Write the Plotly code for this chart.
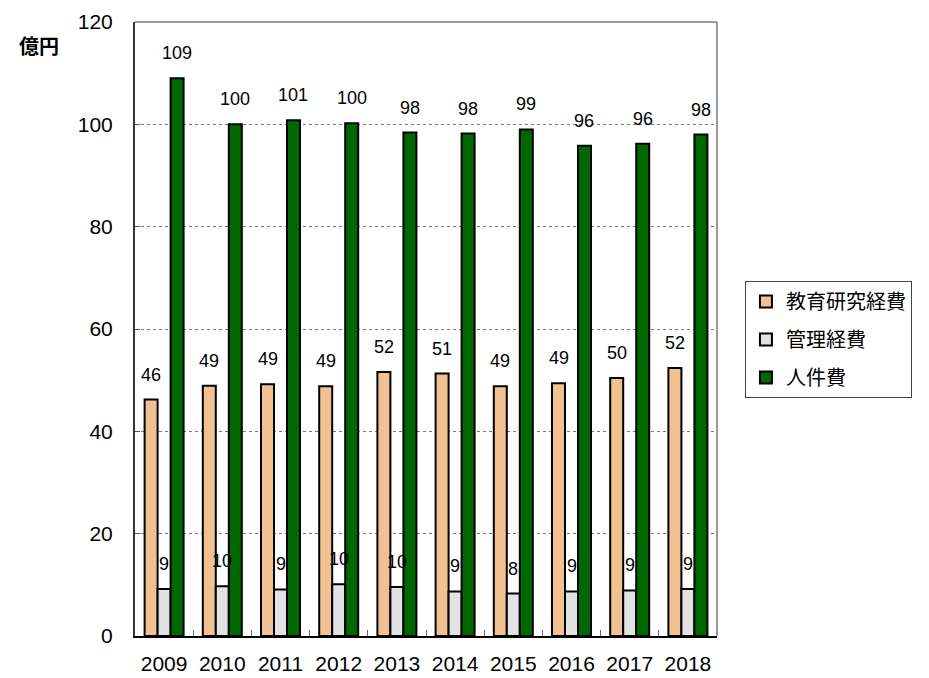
import plotly.graph_objects as go

years = ["2009", "2010", "2011", "2012", "2013", "2014", "2015", "2016", "2017", "2018"]
edu_research = [46.2, 48.9, 49.2, 48.8, 51.6, 51.3, 48.8, 49.4, 50.4, 52.4]
management = [9.2, 9.7, 9.1, 10.1, 9.6, 8.7, 8.3, 8.7, 8.9, 9.2]
personnel = [109.0, 100.0, 100.8, 100.2, 98.4, 98.2, 99.0, 95.8, 96.2, 98.0]
series_names = ["教育研究経費", "管理経費", "人件費"]
colors = ["#F2C192", "#E2E2E2", "#006800"]

CJK = "Noto Sans CJK JP"
LAT = "Liberation Sans"

W, H = 921, 670
ML, MR, MT, MB = 127, 212, 14, 42
plot_w = W - ML - MR
bargap = 0.33
bar_px = plot_w / len(years) * (1 - bargap) / 3

fig = go.Figure()
all_series = [edu_research, management, personnel]
annotations = []
for k, (name, vals, col) in enumerate(zip(series_names, all_series, colors)):
    fig.add_trace(go.Bar(
        x=years, y=vals, name=name, legendgroup=name,
        marker=dict(color=col, line=dict(color="black", width=2)),
    ))
    for i, v in enumerate(vals):
        # category index i on the category axis
        annotations.append(dict(
            x=i, y=v, xref="x", yref="y", text=f"{v:.0f}", showarrow=False,
            yanchor="bottom", xanchor="center", yshift=13, xshift=(k - 1) * bar_px,
            font=dict(family=LAT, size=18, color="black"),
        ))

annotations.append(dict(
    text="<b>億円</b>", xref="paper", yref="paper",
    x=(31 - ML) / plot_w, y=0.9625, xanchor="center", yanchor="middle",
    showarrow=False, font=dict(family=CJK, size=20, color="black"),
))

fig.update_layout(
    width=W, height=H,
    barmode="group", bargap=bargap, bargroupgap=0,
    paper_bgcolor="white", plot_bgcolor="white",
    margin=dict(l=ML, r=MR, t=MT, b=MB, autoexpand=False),
    font=dict(family=LAT, size=21, color="black"),
    legend=dict(
        x=1.048, y=0.578, xanchor="left", yanchor="top",
        font=dict(family=CJK, size=20, color="black"),
        bordercolor="#444444", borderwidth=1,
        itemwidth=30, tracegroupgap=9,
    ),
    annotations=annotations,
)

fig.update_xaxes(
    type="category", categoryorder="array", categoryarray=years,
    range=[-0.5, len(years) - 0.5], autorange=False,
    showline=True, linecolor="black", linewidth=2,
    ticks="inside", tickson="boundaries", ticklen=6, tickcolor="#666666",
    tickfont=dict(family=LAT, size=21), showgrid=False,
    ticklabelstandoff=8,
)
fig.update_yaxes(
    range=[0, 120], autorange=False, dtick=20, showline=True, linecolor="#333333", linewidth=2,
    showgrid=True, gridcolor="#777777", griddash="dot", gridwidth=1,
    tickfont=dict(family=LAT, size=21), ticks="inside", ticklen=5, tickcolor="#555555",
    ticklabelstandoff=16, zeroline=False,
)
fig.add_shape(type="line", xref="paper", yref="paper", x0=0, y0=1, x1=1, y1=1,
              line=dict(color="#999999", width=2), layer="above")
fig.add_shape(type="line", xref="paper", yref="paper", x0=1, y0=0, x1=1, y1=1,
              line=dict(color="#999999", width=2), layer="above")

fig.write_html("out.html")
